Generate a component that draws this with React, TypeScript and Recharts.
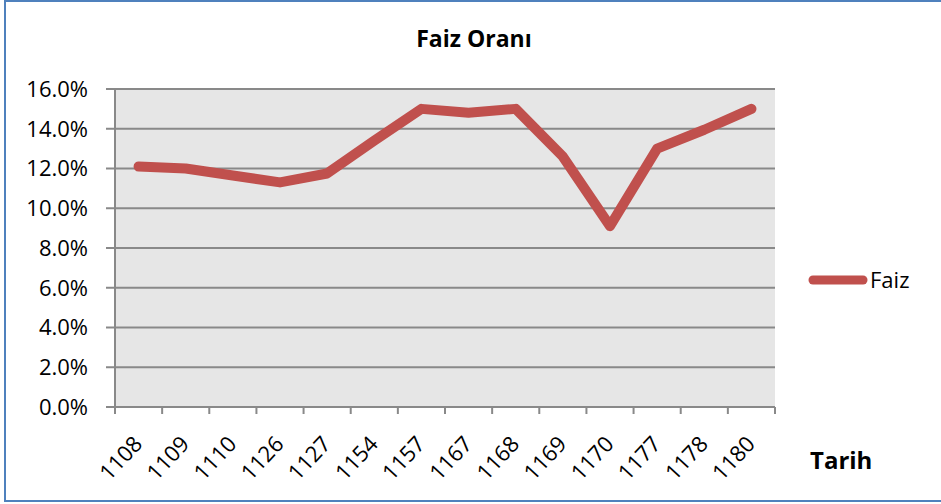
import { LineChart, Line, XAxis, YAxis, CartesianGrid, Legend } from 'recharts'

const tarihler = ['1108', '1109', '1110', '1126', '1127', '1154', '1157', '1167', '1168', '1169', '1170', '1177', '1178', '1180']
const faizOrani = [12.1, 12.0, 11.65, 11.3, 11.75, 13.4, 15.0, 14.8, 15.0, 12.6, 9.1, 13.0, 13.95, 15.0]
const yTicks = [0, 2, 4, 6, 8, 10, 12, 14, 16]

const data = tarihler.map((t, i) => ({ idx: i, tarih: t, Faiz: faizOrani[i] }))
// category centers get labels, the half steps between them get tick marks
const xTicks = tarihler.flatMap((_, i) => [i - 0.5, i]).concat(tarihler.length - 0.5)

const GRID = '#898989'
const FONT = '"Open Sans", sans-serif'

function XTick({ x, y, payload }: any) {
  const v = payload.value
  if (!Number.isInteger(v)) {
    return <line x1={x} y1={y} x2={x} y2={y + 7} stroke={GRID} strokeWidth={2} />
  }
  const tx = x + 5
  const ty = y + 38
  return (
    <text x={tx} y={ty} transform={`rotate(-47, ${tx}, ${ty})`} textAnchor="end" fontSize={22} fill="#000">
      {tarihler[v]}
    </text>
  )
}

function LegendBox({ payload }: any) {
  const item = payload && payload[0]
  return (
    <svg width={120} height={30} style={{ display: 'block' }}>
      <line x1={9} y1={15} x2={59} y2={15} stroke={item?.color ?? '#c0504d'} strokeWidth={9} strokeLinecap="round" />
      <text x={66} y={23} fontSize={22} fill="#000" fontFamily={FONT}>{item?.value ?? 'Faiz'}</text>
    </svg>
  )
}

export default function App() {
  return (
    <div style={{ position: 'absolute', left: 0, top: 0, width: 941, height: 504, overflow: 'hidden', background: '#fff', fontFamily: FONT }}>
      <div style={{ position: 'absolute', left: 4, top: 0, width: 945, height: 502, border: '2px solid #4f81bd', boxSizing: 'border-box' }} />
      <LineChart width={941} height={504} data={data} margin={{ top: 89, right: 166, bottom: 7, left: 0 }}>
        <CartesianGrid vertical={false} stroke={GRID} strokeWidth={2} fill="#e6e6e6" />
        <XAxis
          dataKey="idx"
          type="number"
          domain={[-0.5, tarihler.length - 0.5]}
          ticks={xTicks}
          interval={0}
          height={90}
          tickSize={0}
          tickMargin={0}
          tickLine={false}
          axisLine={{ stroke: GRID, strokeWidth: 2 }}
          tick={<XTick />}
        />
        <YAxis
          domain={[0, 16]}
          ticks={yTicks}
          interval={0}
          width={115}
          tickSize={9}
          tickMargin={18}
          tickFormatter={(v: number) => v.toFixed(1) + '%'}
          tick={{ fill: '#000', fontSize: 22 }}
          tickLine={{ stroke: GRID, strokeWidth: 2 }}
          axisLine={{ stroke: GRID, strokeWidth: 2 }}
        />
        <Legend
          layout="horizontal"
          verticalAlign="middle"
          align="center"
          content={<LegendBox />}
          wrapperStyle={{ position: 'absolute', left: 804, top: 265, width: 120, height: 30 }}
        />
        <Line
          type="linear"
          dataKey="Faiz"
          stroke="#c0504d"
          strokeWidth={10}
          strokeLinejoin="round"
          strokeLinecap="round"
          dot={false}
          isAnimationActive={false}
        />
      </LineChart>
      <svg width={941} height={504} style={{ position: 'absolute', left: 0, top: 0, pointerEvents: 'none' }}>
        <text x={474} y={47} textAnchor="middle" fontSize={23} fontWeight="bold" fill="#000" fontFamily={FONT}>Faiz Oranı</text>
        <text x={810} y={469} fontSize={24} fontWeight="bold" fill="#000" fontFamily={FONT}>Tarih</text>
      </svg>
    </div>
  )
}
